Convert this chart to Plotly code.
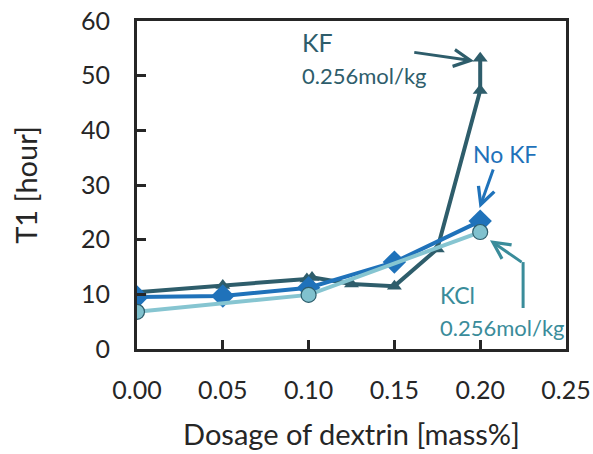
import plotly.graph_objects as go

# Data
kf_x = [0.0, 0.05, 0.099, 0.102, 0.125, 0.15, 0.175, 0.2, 0.2]
kf_y = [10.4, 11.6, 12.8, 13.1, 11.9, 11.5, 18.3, 47.3, 53.2]
nokf_x = [0.0, 0.05, 0.10, 0.15, 0.20]
nokf_y = [9.5, 9.7, 11.2, 15.9, 23.4]
kcl_x = [0.0, 0.10, 0.20]
kcl_y = [6.8, 9.9, 21.4]
x_ticks = [0.0, 0.05, 0.10, 0.15, 0.20, 0.25]
x_tick_text = ["0.00", "0.05", "0.10", "0.15", "0.20", "0.25"]
y_ticks = [0, 10, 20, 30, 40, 50, 60]

C_KF = "#2E5D6B"
C_NOKF = "#1F72BA"
C_KCL_LINE = "#86C5D1"
C_KCL_FILL = "#80C1CE"
C_KCL_TXT = "#3A8C9A"
FONT = "Lato"
C_TXT = "#262626"

fig = go.Figure()
fig.add_trace(go.Scatter(x=kf_x, y=kf_y, mode="lines+markers",
                         line=dict(color=C_KF, width=4),
                         marker=dict(symbol="triangle-up", size=13, color=C_KF)))
fig.add_trace(go.Scatter(x=nokf_x, y=nokf_y, mode="lines+markers",
                         line=dict(color=C_NOKF, width=4),
                         marker=dict(symbol="diamond", size=18, color=C_NOKF)))
fig.add_trace(go.Scatter(x=kcl_x, y=kcl_y, mode="lines+markers",
                         line=dict(color=C_KCL_LINE, width=4),
                         marker=dict(symbol="circle", size=15, color=C_KCL_FILL,
                                     line=dict(color="#2E5D6B", width=1.2))))

ann = []
ann.append(dict(x=0.095, y=56.2, xref="x", yref="y", text="KF", showarrow=False,
                xanchor="left", yanchor="middle", font=dict(family=FONT, size=25, color=C_KF)))
ann.append(dict(x=0.095, y=50.1, xref="x", yref="y", text="0.256mol/kg", showarrow=False,
                xanchor="left", yanchor="middle", font=dict(family=FONT, size=22, color=C_KF)))
ann.append(dict(x=0.1964, y=52.7, ax=0.1607, ay=54.3, xref="x", yref="y", axref="x", ayref="y",
                text="", showarrow=True, arrowhead=5, arrowsize=1.1, arrowwidth=3,
                arrowcolor=C_KF, standoff=0))
ann.append(dict(x=0.2145, y=35.7, xref="x", yref="y", text="No KF", showarrow=False,
                xanchor="center", yanchor="middle", font=dict(family=FONT, size=23, color=C_NOKF)))
ann.append(dict(x=0.1996, y=25.8, ax=0.2079, ay=33.1, xref="x", yref="y", axref="x", ayref="y",
                text="", showarrow=True, arrowhead=5, arrowsize=1.1, arrowwidth=3,
                arrowcolor=C_NOKF, standoff=0))
ann.append(dict(x=0.1755, y=9.9, xref="x", yref="y", text="KCl", showarrow=False,
                xanchor="left", yanchor="middle", font=dict(family=FONT, size=23, color=C_KCL_TXT)))
ann.append(dict(x=0.1755, y=4.0, xref="x", yref="y", text="0.256mol/kg", showarrow=False,
                xanchor="left", yanchor="middle", font=dict(family=FONT, size=22, color=C_KCL_TXT)))
ann.append(dict(x=0.2057, y=19.9, ax=0.225, ay=15.7, xref="x", yref="y", axref="x", ayref="y",
                text="", showarrow=True, arrowhead=5, arrowsize=1.1, arrowwidth=3,
                arrowcolor=C_KCL_TXT, standoff=0))

fig.add_shape(type="line", x0=0.225, y0=7.5, x1=0.225, y1=15.9, xref="x", yref="y",
              line=dict(color=C_KCL_TXT, width=3))

fig.update_layout(
    width=593, height=454,
    margin=dict(l=137, r=27, t=21, b=105, autoexpand=False),
    paper_bgcolor="white", plot_bgcolor="white",
    showlegend=False,
    annotations=ann,
    font=dict(family=FONT, size=25, color=C_TXT),
)
fig.update_xaxes(range=[0, 0.25], tickvals=x_ticks, ticktext=x_tick_text,
                 ticks="inside", ticklen=9, tickwidth=2.5, tickcolor=C_TXT,
                 showline=True, linecolor=C_TXT, linewidth=3, mirror=True,
                 showgrid=False, zeroline=False, ticklabelstandoff=17, automargin=False,
                 ticklabeloverflow="allow",
                 tickfont=dict(family=FONT, size=25, color=C_TXT),
                 title=dict(text="Dosage of dextrin [mass%]", standoff=22,
                            font=dict(family=FONT, size=29, color=C_TXT)))
fig.update_yaxes(range=[0, 60], tickvals=y_ticks,
                 ticks="inside", ticklen=9, tickwidth=2.5, tickcolor=C_TXT,
                 showline=True, linecolor=C_TXT, linewidth=3, mirror=True,
                 showgrid=False, zeroline=False, ticklabelstandoff=19, automargin=False,
                 ticklabeloverflow="allow",
                 tickfont=dict(family=FONT, size=25, color=C_TXT),
                 title=dict(text="T1 [hour]", standoff=35,
                            font=dict(family=FONT, size=29, color=C_TXT)))

fig.write_html("out.html", config={"displayModeBar": False},
               post_script="document.body.style.margin='0';document.body.style.overflow='hidden';")
